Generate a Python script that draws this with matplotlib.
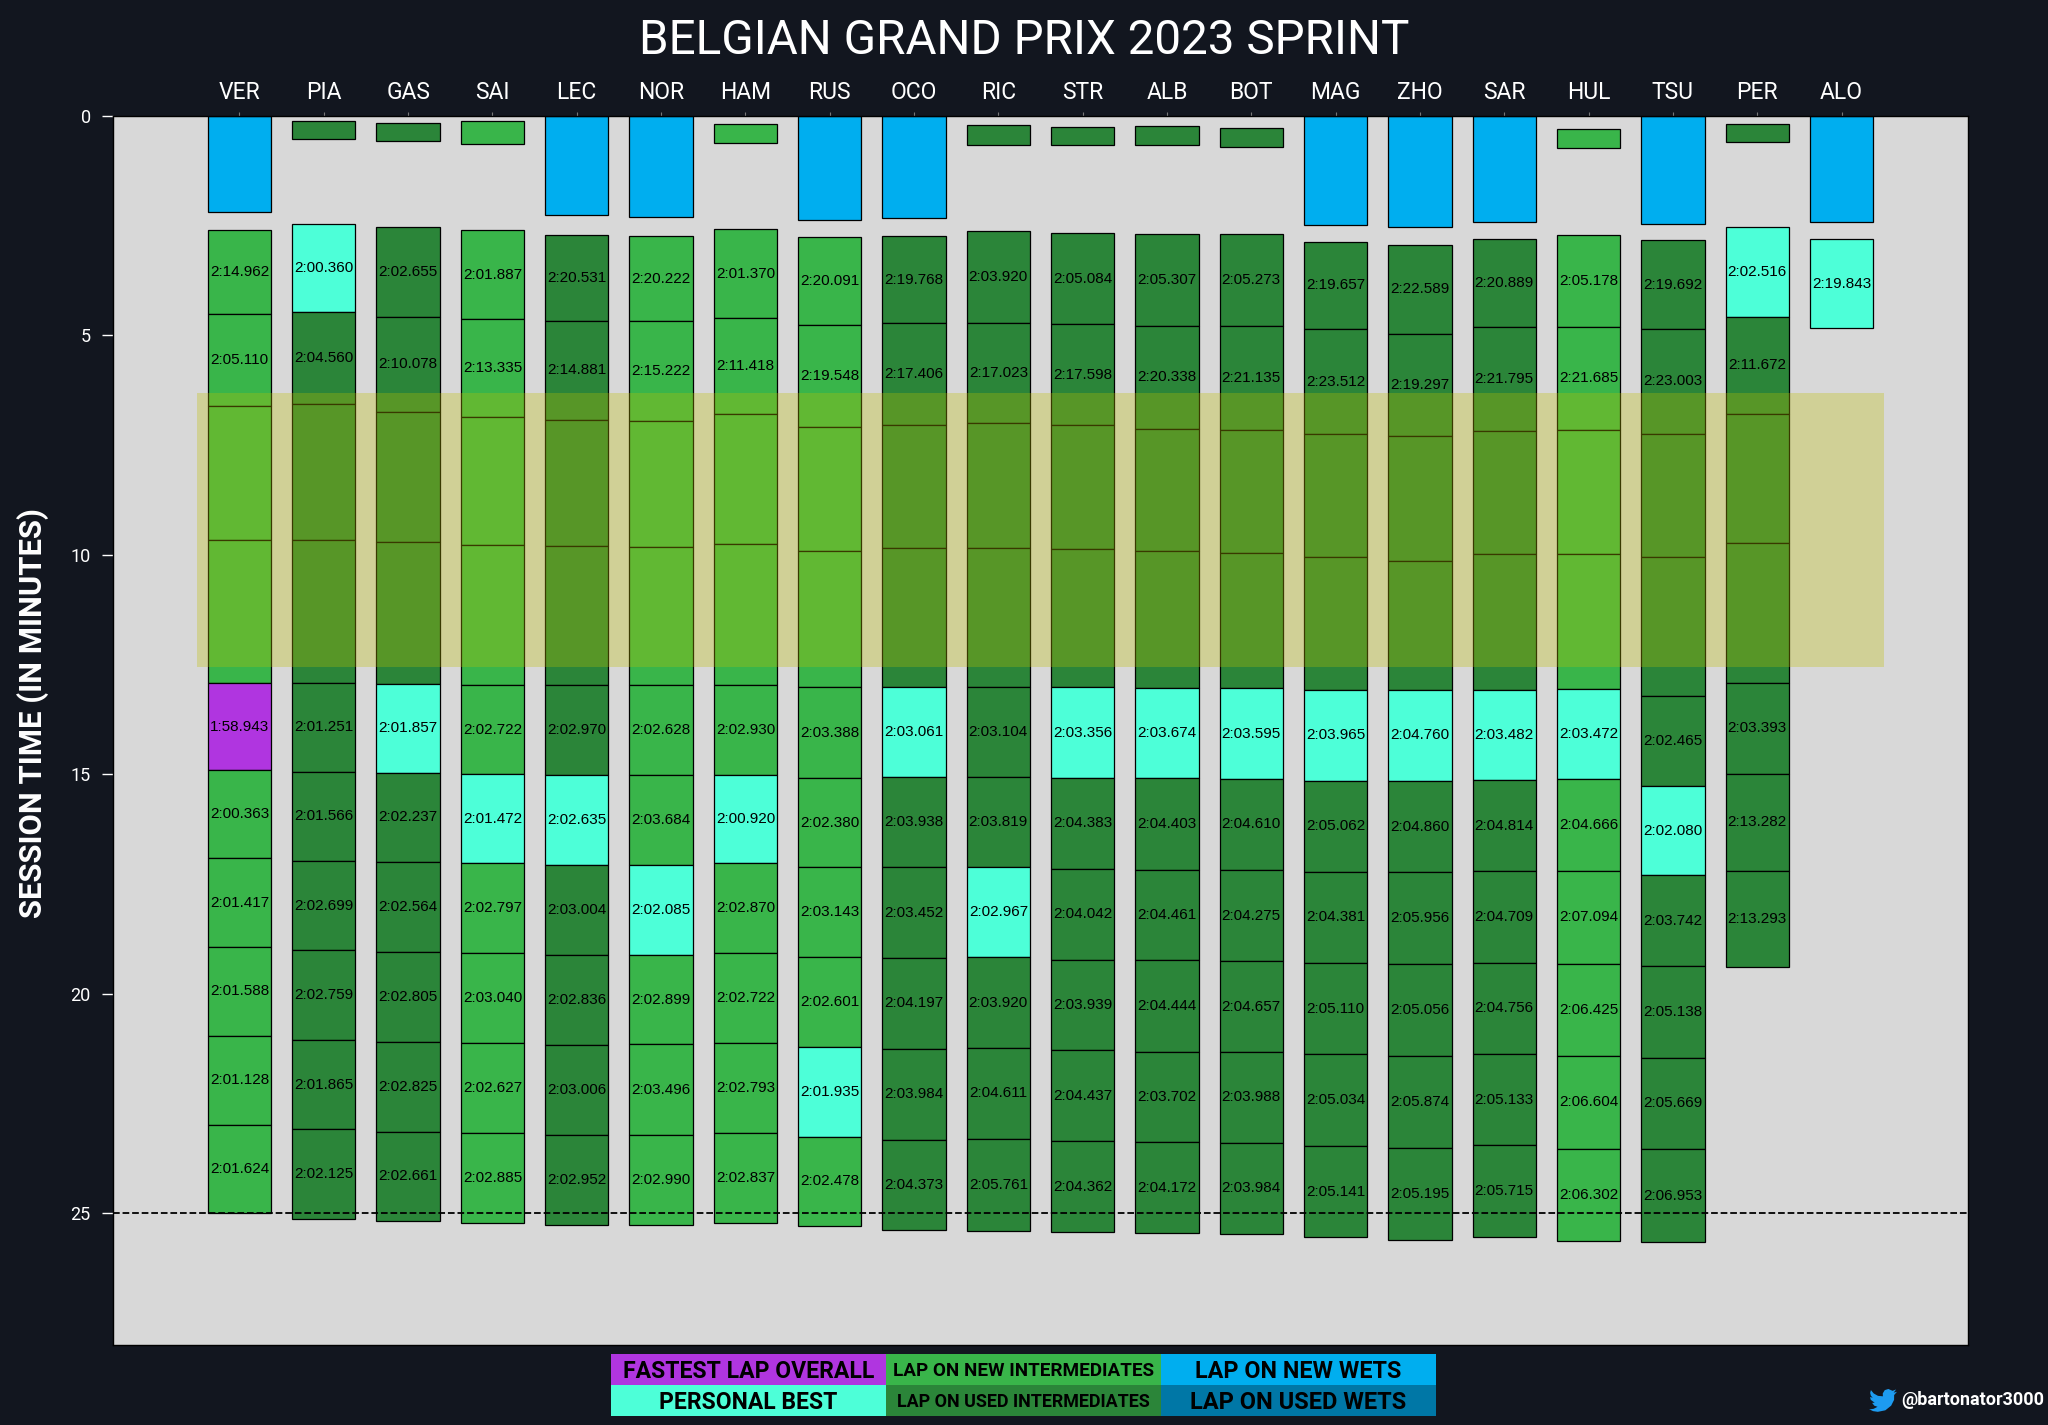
import matplotlib
matplotlib.use("Agg")
import matplotlib.pyplot as plt
from matplotlib.patches import Rectangle, Polygon

plt.rcParams['font.family'] = ['Roboto', 'DejaVu Sans']

BG = '#12161f'
PANEL = '#d8d8d8'
TYRE = {'P': '#b035e0', 'B': '#4dffd8', 'N': '#39b54a', 'U': '#2b8539', 'W': '#00aeef', 'X': '#0077a6'}

drivers = ['VER', 'PIA', 'GAS', 'SAI', 'LEC', 'NOR', 'HAM', 'RUS', 'OCO', 'RIC',
           'STR', 'ALB', 'BOT', 'MAG', 'ZHO', 'SAR', 'HUL', 'TSU', 'PER', 'ALO']

# out lap of every car: start, end (minutes), tyre
out_start = [0, .106, .15, .12, 0, 0, .175, 0, 0, .21, .25, .23, .27, 0, 0, 0, .30, 0, .175, 0]
out_end = [2.18, .516, .58, .645, 2.255, 2.29, .62, 2.37, 2.33, .66, .67, .67, .70, 2.48, 2.54, 2.41, .735, 2.46, .59, 2.42]
out_tyre = 'WUUNWWNWWUUUUWWWNWUW'

# lap edges in session minutes, lap colours, lap time text
VER_edges = [2.60, 4.51, 6.60, 9.67, 12.92, 14.90, 16.91, 18.93, 20.96, 22.98, 25.00]
VER_tyres = 'NNNNPNNNNN'
VER_times = ['2:14.962', '2:05.110', '', '', '1:58.943', '2:00.363', '2:01.417', '2:01.588', '2:01.128', '2:01.624']
PIA_edges = [2.47, 4.47, 6.56, 9.67, 12.92, 14.94, 16.97, 19.01, 21.06, 23.09, 25.12]
PIA_tyres = 'BUUUUUUUUU'
PIA_times = ['2:00.360', '2:04.560', '', '', '2:01.251', '2:01.566', '2:02.699', '2:02.759', '2:01.865', '2:02.125']
GAS_edges = [2.52, 4.58, 6.74, 9.70, 12.93, 14.96, 17.00, 19.04, 21.09, 23.14, 25.18]
GAS_tyres = 'UUUUBUUUUU'
GAS_times = ['2:02.655', '2:10.078', '', '', '2:01.857', '2:02.237', '2:02.564', '2:02.805', '2:02.825', '2:02.661']
SAI_edges = [2.60, 4.63, 6.85, 9.78, 12.96, 15.00, 17.03, 19.07, 21.12, 23.17, 25.22]
SAI_tyres = 'NNNNNBNNNN'
SAI_times = ['2:01.887', '2:13.335', '', '', '2:02.722', '2:01.472', '2:02.797', '2:03.040', '2:02.627', '2:02.885']
LEC_edges = [2.71, 4.67, 6.92, 9.80, 12.97, 15.02, 17.06, 19.11, 21.16, 23.21, 25.26]
LEC_tyres = 'UUUUUBUUUU'
LEC_times = ['2:20.531', '2:14.881', '', '', '2:02.970', '2:02.635', '2:03.004', '2:02.836', '2:03.006', '2:02.952']
NOR_edges = [2.73, 4.68, 6.95, 9.83, 12.97, 15.01, 17.07, 19.11, 21.15, 23.21, 25.27]
NOR_tyres = 'NNNNNNBNNN'
NOR_times = ['2:20.222', '2:15.222', '', '', '2:02.628', '2:03.684', '2:02.085', '2:02.899', '2:03.496', '2:02.990']
HAM_edges = [2.58, 4.60, 6.80, 9.76, 12.96, 15.01, 17.02, 19.07, 21.12, 23.16, 25.21]
HAM_tyres = 'NNNNNBNNNN'
HAM_times = ['2:01.370', '2:11.418', '', '', '2:02.930', '2:00.920', '2:02.870', '2:02.722', '2:02.793', '2:02.837']
RUS_edges = [2.76, 4.76, 7.08, 9.90, 13.02, 15.08, 17.12, 19.17, 21.21, 23.25, 25.29]
RUS_tyres = 'NNNNNNNNBN'
RUS_times = ['2:20.091', '2:19.548', '', '', '2:03.388', '2:02.380', '2:03.143', '2:02.601', '2:01.935', '2:02.478']
OCO_edges = [2.74, 4.72, 7.04, 9.85, 13.00, 15.05, 17.12, 19.18, 21.25, 23.32, 25.39]
OCO_tyres = 'UUUUBUUUUU'
OCO_times = ['2:19.768', '2:17.406', '', '', '2:03.061', '2:03.938', '2:03.452', '2:04.197', '2:03.984', '2:04.373']
RIC_edges = [2.63, 4.71, 7.00, 9.85, 13.00, 15.05, 17.12, 19.17, 21.23, 23.31, 25.41]
RIC_tyres = 'UUUUUUBUUU'
RIC_times = ['2:03.920', '2:17.023', '', '', '2:03.104', '2:03.819', '2:02.967', '2:03.920', '2:04.611', '2:05.761']
STR_edges = [2.665, 4.74, 7.05, 9.87, 13.02, 15.08, 17.15, 19.22, 21.28, 23.36, 25.43]
STR_tyres = 'UUUUBUUUUU'
STR_times = ['2:05.084', '2:17.598', '', '', '2:03.356', '2:04.383', '2:04.042', '2:03.939', '2:04.437', '2:04.362']
ALB_edges = [2.69, 4.78, 7.12, 9.92, 13.03, 15.09, 17.17, 19.24, 21.32, 23.38, 25.45]
ALB_tyres = 'UUUUBUUUUU'
ALB_times = ['2:05.307', '2:20.338', '', '', '2:03.674', '2:04.403', '2:04.461', '2:04.444', '2:03.702', '2:04.172']
BOT_edges = [2.69, 4.78, 7.145, 9.96, 13.04, 15.10, 17.18, 19.25, 21.33, 23.39, 25.46]
BOT_tyres = 'UUUUBUUUUU'
BOT_times = ['2:05.273', '2:21.135', '', '', '2:03.595', '2:04.610', '2:04.275', '2:04.657', '2:03.988', '2:03.984']
MAG_edges = [2.87, 4.85, 7.25, 10.05, 13.07, 15.14, 17.22, 19.29, 21.38, 23.46, 25.55]
MAG_tyres = 'UUUUBUUUUU'
MAG_times = ['2:19.657', '2:23.512', '', '', '2:03.965', '2:05.062', '2:04.381', '2:05.110', '2:05.034', '2:05.141']
ZHO_edges = [2.94, 4.96, 7.28, 10.13, 13.07, 15.15, 17.23, 19.33, 21.41, 23.51, 25.60]
ZHO_tyres = 'UUUUBUUUUU'
ZHO_times = ['2:22.589', '2:19.297', '', '', '2:04.760', '2:04.860', '2:05.956', '2:05.056', '2:05.874', '2:05.195']
SAR_edges = [2.81, 4.81, 7.18, 9.99, 13.07, 15.13, 17.21, 19.29, 21.37, 23.45, 25.55]
SAR_tyres = 'UUUUBUUUUU'
SAR_times = ['2:20.889', '2:21.795', '', '', '2:03.482', '2:04.814', '2:04.709', '2:04.756', '2:05.133', '2:05.715']
HUL_edges = [2.70, 4.80, 7.16, 9.99, 13.05, 15.11, 17.19, 19.31, 21.42, 23.53, 25.64]
HUL_tyres = 'NNNNBNNNNN'
HUL_times = ['2:05.178', '2:21.685', '', '', '2:03.472', '2:04.666', '2:07.094', '2:06.425', '2:06.604', '2:06.302']
TSU_edges = [2.83, 4.85, 7.24, 10.04, 13.22, 15.26, 17.30, 19.36, 21.45, 23.54, 25.66]
TSU_tyres = 'UUUUUBUUUU'
TSU_times = ['2:19.692', '2:23.003', '', '', '2:02.465', '2:02.080', '2:03.742', '2:05.138', '2:05.669', '2:06.953']
PER_edges = [2.54, 4.58, 6.78, 9.73, 12.92, 14.98, 17.20, 19.39]
PER_tyres = 'BUUUUUU'
PER_times = ['2:02.516', '2:11.672', '', '', '2:03.393', '2:13.282', '2:13.293']
ALO_edges = [2.81, 4.83]
ALO_tyres = 'B'
ALO_times = ['2:19.843']

all_edges = [VER_edges, PIA_edges, GAS_edges, SAI_edges, LEC_edges, NOR_edges, HAM_edges, RUS_edges, OCO_edges, RIC_edges,
             STR_edges, ALB_edges, BOT_edges, MAG_edges, ZHO_edges, SAR_edges, HUL_edges, TSU_edges, PER_edges, ALO_edges]
all_tyres = [VER_tyres, PIA_tyres, GAS_tyres, SAI_tyres, LEC_tyres, NOR_tyres, HAM_tyres, RUS_tyres, OCO_tyres, RIC_tyres,
             STR_tyres, ALB_tyres, BOT_tyres, MAG_tyres, ZHO_tyres, SAR_tyres, HUL_tyres, TSU_tyres, PER_tyres, ALO_tyres]
all_times = [VER_times, PIA_times, GAS_times, SAI_times, LEC_times, NOR_times, HAM_times, RUS_times, OCO_times, RIC_times,
             STR_times, ALB_times, BOT_times, MAG_times, ZHO_times, SAR_times, HUL_times, TSU_times, PER_times, ALO_times]

legend_text = ['FASTEST LAP OVERALL', 'LAP ON NEW INTERMEDIATES', 'LAP ON NEW WETS',
               'PERSONAL BEST', 'LAP ON USED INTERMEDIATES', 'LAP ON USED WETS']
legend_keys = ['P', 'N', 'W', 'B', 'U', 'X']
legend_size = [16.6, 13.6, 16.8, 16.5, 12.9, 17]

W, H = 2048, 1425
fig = plt.figure(figsize=(W / 100, H / 100), dpi=100, facecolor=BG)
ax = fig.add_axes([113 / W, 1 - 1345 / H, (1968 - 113) / W, (1345 - 116) / H], facecolor=PANEL)

for i, d in enumerate(drivers):
    ax.bar(i, out_end[i] - out_start[i], bottom=out_start[i], width=0.75,
           color=TYRE[out_tyre[i]], edgecolor='black', linewidth=0.9, zorder=2)
    edges = all_edges[i]
    for j in range(len(edges) - 1):
        ax.bar(i, edges[j + 1] - edges[j], bottom=edges[j], width=0.75,
               color=TYRE[all_tyres[i][j]], edgecolor='black', linewidth=0.9, zorder=2)
        if all_times[i][j]:
            ax.text(i, (edges[j] + edges[j + 1]) / 2, all_times[i][j], ha='center', va='center',
                    fontsize=11, family=['Liberation Sans'], color='black', zorder=3)

# red flag / safety car window
ax.axhspan(6.3, 12.55, xmin=1 / 22, xmax=21 / 22, color='y', alpha=0.3, linewidth=0, zorder=4)
ax.axhline(25, color='black', ls='--', lw=1.3, zorder=5)

ax.set_xlim(-1.5, 20.5)
ax.set_ylim(28, 0)
ax.set_xticks(range(len(drivers)))
ax.set_xticklabels(drivers)
ax.xaxis.tick_top()
ax.tick_params(axis='x', colors='#777777', length=3, width=0.8, labelcolor='white', labelsize=16.5, pad=6)
ax.set_yticks([0, 5, 10, 15, 20, 25])
ax.tick_params(axis='y', colors='white', length=8, width=1, labelsize=13, pad=8)
for s in ax.spines.values():
    s.set_color('black')
    s.set_linewidth(1)

fig.text(1024 / W, 1 - 41 / H, 'BELGIAN GRAND PRIX 2023 SPRINT', color='white', fontsize=34.3,
         ha='center', va='center')
fig.text(33 / W, 1 - 713 / H, 'SESSION TIME (IN MINUTES)', color='white', fontsize=22.3, fontweight='bold',
         rotation=90, ha='center', va='center')

# legend block under the plot
leg = fig.add_axes([611 / W, 1 - 1416 / H, 825 / W, 62 / H])
leg.set_xlim(0, 3)
leg.set_ylim(2, 0)
leg.axis('off')
for k, label in enumerate(legend_text):
    col, row = k % 3, k // 3
    leg.add_patch(Rectangle((col, row), 1, 1, facecolor=TYRE[legend_keys[k]], edgecolor='none'))
    leg.text(col + .5, row + .56, label, ha='center', va='center', color='black',
             fontsize=legend_size[k], fontweight='bold')

# twitter mark
bird_x = [24, 21.1, 23.3, 20.2, 16.6, 13.5, 11.8, 11.9, 7.7, 4.1, 1.64, 1, 1.6, 3.2, .93, .93, 1.5, 4.9,
          2.66, 4.5, 7.3, 4, 1.2, 0, 3.5, 7.56, 14, 19, 21.5, 21.55]
bird_y = [4.6, 5.35, 2.6, 3.8, 2.2, 3.2, 6, 8.5, 8.1, 6.1, 3.16, 5.6, 8, 9.7, 9.1, 9.2, 11.5, 14,
          14.1, 16.5, 17.5, 19.2, 19.6, 19.5, 21.2, 21.8, 20.5, 16.5, 11.5, 7.4]
bird = fig.add_axes([1869 / W, 1 - 1414.4 / H, 28 / W, 28 / H])
bird.set_xlim(0, 24)
bird.set_ylim(24, 0)
bird.axis('off')
bird.add_patch(Polygon(list(zip(bird_x, bird_y)), closed=True, facecolor='#1d9bf0', edgecolor='none'))
fig.text(2044 / W, 1 - 1400 / H, '@bartonator3000', color='white', fontsize=13, fontweight='bold',
         ha='right', va='center')

fig.savefig('out.png', dpi=100, facecolor=BG)
